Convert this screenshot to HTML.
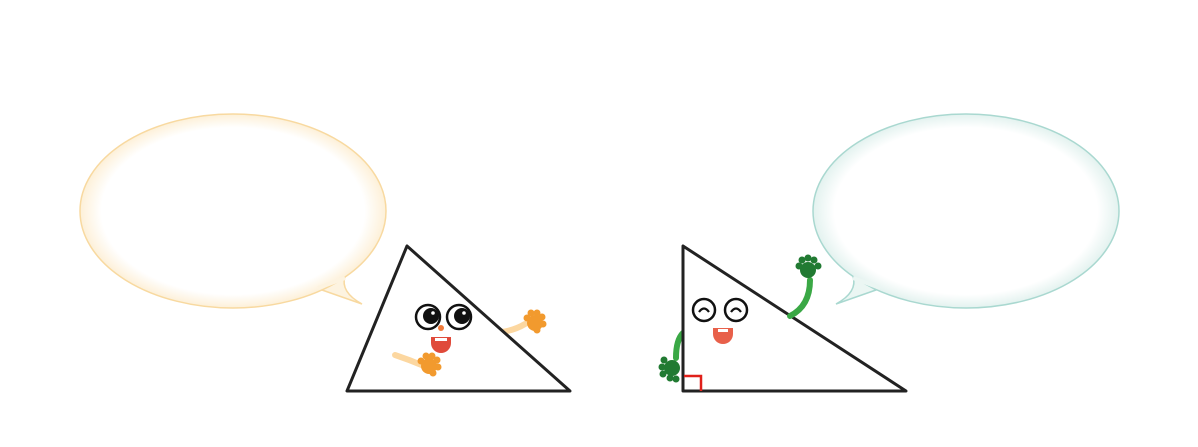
<!DOCTYPE html>
<html><head><meta charset="utf-8"><style>
html,body{margin:0;padding:0;background:#fff;width:1198px;height:447px;overflow:hidden}
</style></head><body>
<svg width="1198" height="447" viewBox="0 0 1198 447">
<defs>
<radialGradient id="gy" cx="50%" cy="50%" r="50%"><stop offset="86%" stop-color="#fff"/><stop offset="100%" stop-color="#fdf0d8"/></radialGradient>
<radialGradient id="gt" cx="50%" cy="50%" r="50%"><stop offset="86%" stop-color="#fff"/><stop offset="100%" stop-color="#e3f2ef"/></radialGradient>
</defs>
<g>
<path d="M322,290 L362,304 Q340,292 345,276 Z" fill="#fdf3e0" stroke="#f8d9a0" stroke-width="1.5"/>
<ellipse cx="233" cy="211" rx="153" ry="97" fill="url(#gy)" stroke="#f8d9a0" stroke-width="1.5"/>
<path d="M318,288 L345,278" stroke="#fdf3e0" stroke-width="4"/>
</g>
<g>
<path d="M876,290 L836,304 Q858,292 853,276 Z" fill="#ebf6f3" stroke="#a9d8d0" stroke-width="1.5"/>
<ellipse cx="966" cy="211" rx="153" ry="97" fill="url(#gt)" stroke="#a9d8d0" stroke-width="1.5"/>
<path d="M880,288 L853,278" stroke="#ebf6f3" stroke-width="4"/>
</g>
<g>
<path d="M502,332 Q515,330 525,324" stroke="#fcd7a0" stroke-width="6" fill="none" stroke-linecap="round"/>
<polygon points="407,246 347,391 570,391" fill="#fff" stroke="#222" stroke-width="3" stroke-linejoin="round"/>
<path d="M395,355 Q410,360 424,366" stroke="#fcd7a0" stroke-width="6" fill="none" stroke-linecap="round"/>
<g fill="#f29a2e"><circle cx="429" cy="366" r="8"/><circle cx="535" cy="323" r="8"/>
<circle cx="421" cy="361" r="3.5"/><circle cx="426" cy="356" r="3.5"/><circle cx="432" cy="356" r="3.5"/><circle cx="437" cy="360" r="3.5"/><circle cx="438" cy="367" r="3.5"/><circle cx="433" cy="373" r="3.5"/>
<circle cx="527" cy="318" r="3.5"/><circle cx="531" cy="313" r="3.5"/><circle cx="537" cy="313" r="3.5"/><circle cx="542" cy="317" r="3.5"/><circle cx="543" cy="324" r="3.5"/><circle cx="537" cy="330" r="3.5"/></g>
<circle cx="428" cy="317" r="12" fill="#fff" stroke="#111" stroke-width="2.5"/>
<circle cx="459" cy="317" r="12" fill="#fff" stroke="#111" stroke-width="2.5"/>
<circle cx="431" cy="316" r="8" fill="#111"/><circle cx="462" cy="316" r="8" fill="#111"/>
<circle cx="433" cy="313" r="1.8" fill="#fff"/><circle cx="464" cy="313" r="1.8" fill="#fff"/>
<circle cx="441" cy="328" r="3" fill="#f07a3a"/>
<path d="M431,337 H451 V343 A10,10 0 0 1 431,343 Z" fill="#e04a3a"/>
<rect x="435" y="338" width="12" height="3" fill="#fff"/>
</g>
<g>
<path d="M683,333 Q676,340 676,358" stroke="#3aa845" stroke-width="6" fill="none" stroke-linecap="round"/>
<polygon points="683,246 683,391 906,391" fill="#fff" stroke="#222" stroke-width="3" stroke-linejoin="round"/>
<path d="M790,316 Q810,306 810,280" stroke="#3aa845" stroke-width="6" fill="none" stroke-linecap="round"/>
<g fill="#217a32"><circle cx="672" cy="368" r="8"/><circle cx="808" cy="270" r="8"/>
<circle cx="663" cy="374" r="3.5"/><circle cx="662" cy="367" r="3.5"/><circle cx="664" cy="360" r="3.5"/><circle cx="670" cy="378" r="3.5"/><circle cx="676" cy="379" r="3.5"/>
<circle cx="799" cy="266" r="3.5"/><circle cx="802" cy="260" r="3.5"/><circle cx="808" cy="258" r="3.5"/><circle cx="814" cy="260" r="3.5"/><circle cx="818" cy="266" r="3.5"/></g>
<polyline points="684,376 701,376 701,391" fill="none" stroke="#e0201a" stroke-width="2.5"/>
<circle cx="704" cy="310" r="11" fill="#fff" stroke="#111" stroke-width="2.5"/>
<circle cx="736" cy="310" r="11" fill="#fff" stroke="#111" stroke-width="2.5"/>
<path d="M699,312 Q704,305 709,312" fill="none" stroke="#111" stroke-width="2.2"/>
<path d="M731,312 Q736,305 741,312" fill="none" stroke="#111" stroke-width="2.2"/>
<path d="M713,328 H733 V334 A10,10 0 0 1 713,334 Z" fill="#e8604a"/>
<rect x="718" y="329" width="10" height="3" fill="#fff"/>
</g>
</svg>
</body></html>
